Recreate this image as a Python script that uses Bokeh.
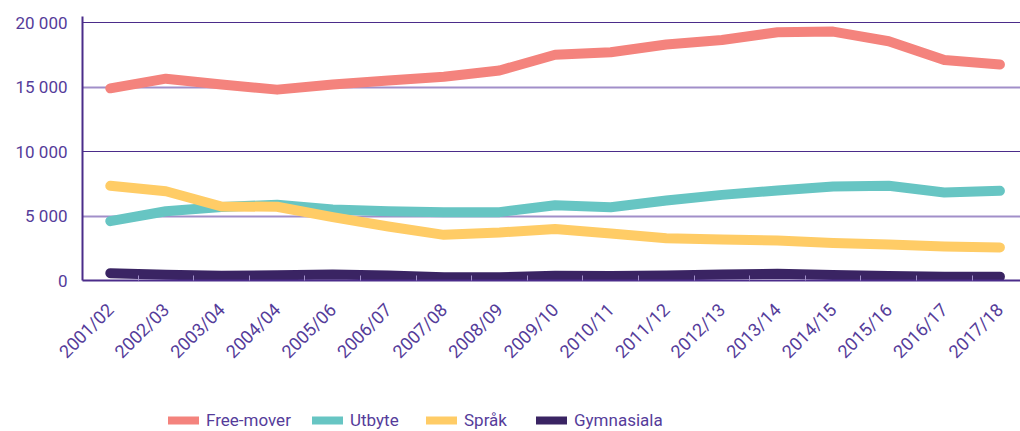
import math
from bokeh.plotting import figure
from bokeh.layouts import column
from bokeh.models import Range1d, FixedTicker, Legend, LegendItem, Grid
from bokeh.embed import file_html
from bokeh.resources import INLINE

years = ["2001/02", "2002/03", "2003/04", "2004/04", "2005/06", "2006/07", "2007/08",
         "2008/09", "2009/10", "2010/11", "2011/12", "2012/13", "2013/14", "2014/15",
         "2015/16", "2016/17", "2017/18"]
free_mover = [14900, 15650, 15200, 14800, 15200, 15500, 15800, 16280, 17500, 17700,
              18300, 18650, 19250, 19300, 18550, 17100, 16750]
utbyte = [4600, 5370, 5700, 5880, 5500, 5370, 5300, 5300, 5840, 5680,
          6200, 6640, 6980, 7290, 7340, 6820, 6950]
sprak = [7340, 6920, 5740, 5720, 4910, 4190, 3540, 3720, 4000, 3640,
         3280, 3180, 3100, 2900, 2790, 2640, 2560]
gymnasiala = [570, 440, 360, 410, 460, 380, 260, 250, 360, 350,
              390, 470, 520, 430, 340, 290, 300]
y_ticks = [0, 5000, 10000, 15000, 20000]
y_tick_labels = ["0", "5 000", "10 000", "15 000", "20 000"]

series = [("Free-mover", free_mover, "#F4837D"),
          ("Utbyte", utbyte, "#67C5C3"),
          ("Språk", sprak, "#FFCC66"),
          ("Gymnasiala", gymnasiala, "#3A2463")]
legend_x = [86, 230, 344, 454]  # legend entry offsets (px)

TXT = "#553C9A"
AX = "#4B2C8A"
FONT = "Roboto"

x = list(range(len(years)))

p = figure(width=1020, height=400, x_range=Range1d(-0.5, 16.37), y_range=Range1d(0, 20470),
           output_backend="svg", toolbar_location=None,
           min_border_left=82, min_border_right=0, min_border_top=16, min_border_bottom=120)
p.outline_line_color = None
p.xgrid.visible = False
p.ygrid.visible = False

g_dark = Grid(dimension=1, ticker=FixedTicker(ticks=[10000, 20000]),
              grid_line_color=AX, grid_line_width=1)
g_light = Grid(dimension=1, ticker=FixedTicker(ticks=[5000, 15000]),
               grid_line_color="#A18FC9", grid_line_width=2)
p.add_layout(g_dark)
p.add_layout(g_light)

for name, vals, col in series:
    p.line(x, vals, line_width=10, line_color=col, line_cap="round", line_join="round")

# x axis
p.xaxis.ticker = FixedTicker(ticks=x, minor_ticks=[i + 0.5 for i in range(-1, len(years))])
p.xaxis.major_label_overrides = {i: y for i, y in enumerate(years)}
p.xaxis.major_label_orientation = math.pi / 4
p.xaxis.major_tick_line_color = None
p.xaxis.minor_tick_in = 5
p.xaxis.minor_tick_out = 0
p.xaxis.minor_tick_line_color = "#A18FC9"
p.xaxis.axis_line_color = AX
p.xaxis.axis_line_width = 2
p.xaxis.major_label_text_font = FONT
p.xaxis.major_label_text_font_size = "18px"
p.xaxis.major_label_text_color = TXT
p.xaxis.major_label_standoff = 20

# y axis
p.yaxis.ticker = FixedTicker(ticks=y_ticks)
p.yaxis.major_label_overrides = {t: l for t, l in zip(y_ticks, y_tick_labels)}
p.yaxis.major_tick_line_color = None
p.yaxis.minor_tick_line_color = None
p.yaxis.axis_line_color = AX
p.yaxis.axis_line_width = 2
p.yaxis.major_label_text_font = FONT
p.yaxis.major_label_text_font_size = "17px"
p.yaxis.major_label_text_color = TXT
p.yaxis.major_label_standoff = 9

# legend strip below the chart (series drawn outside its visible range)
leg = figure(width=1020, height=31, x_range=Range1d(-0.5, 16.37), y_range=Range1d(-200000, -190000),
             output_backend="svg", toolbar_location=None,
             x_axis_location=None, y_axis_location=None, min_border=0)
leg.outline_line_color = None
leg.xgrid.visible = False
leg.ygrid.visible = False
for (name, vals, col), lx in zip(series, legend_x):
    r = leg.line(x, vals, line_width=8, line_color=col, line_cap="round", line_join="round")
    lg = Legend(items=[LegendItem(label=name, renderers=[r])], location=(lx, 1),
                border_line_color=None, background_fill_alpha=0,
                glyph_width=31, glyph_height=20, label_standoff=7,
                padding=0, margin=0,
                label_text_font=FONT, label_text_font_size="17px", label_text_color=TXT)
    leg.add_layout(lg)

layout = column(p, leg, spacing=0)
open("out.html", "w").write(file_html(layout, INLINE))
